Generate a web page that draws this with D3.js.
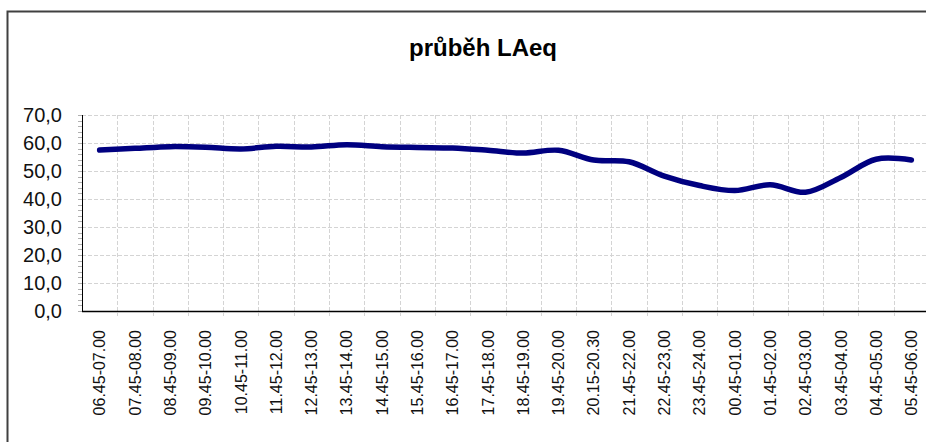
<!DOCTYPE html>
<html>
<head>
<meta charset="utf-8">
<script src="https://cdn.jsdelivr.net/npm/d3@7"></script>
<style>
    body { margin: 0; background: #fff; }
    svg { display: block; font-family: Arial, "Liberation Sans", sans-serif; }
</style>
</head>
<body>
<script>
// chart data
var categories = [
    "06.45-07.00", "07.45-08.00", "08.45-09.00", "09.45-10.00", "10.45-11.00", "11.45-12.00",
    "12.45-13.00", "13.45-14.00", "14.45-15.00", "15.45-16.00", "16.45-17.00", "17.45-18.00",
    "18.45-19.00", "19.45-20.00", "20.15-20.30", "21.45-22.00", "22.45-23,00", "23.45-24.00",
    "00.45-01.00", "01.45-02.00", "02.45-03.00", "03.45-04.00", "04.45-05.00", "05.45-06.00"
];
var laeq = [
    57.5, 58.1, 58.7, 58.5, 57.9, 58.8, 58.6, 59.4, 58.7, 58.4, 58.2, 57.4,
    56.4, 57.4, 53.9, 53.3, 48.2, 44.8, 43.0, 45.1, 42.4, 47.7, 54.2, 53.9
];
var yTicks = [0, 10, 20, 30, 40, 50, 60, 70];
var title = "průběh LAeq";

(function() {
    var width = 926, height = 442;
    var plot = { left: 82, right: 929, top: 115, bottom: 311 };

    var svg = d3.select("body").append("svg")
        .attr("width", width)
        .attr("height", height);

    // outer frame (cropped on the right and bottom)
    svg.append("path")
        .attr("d", "M7.5," + height + "V11.5H" + (width + 5))
        .attr("fill", "none")
        .attr("stroke", "#404040")
        .attr("stroke-width", 2);

    svg.append("text")
        .attr("x", 483)
        .attr("y", 56)
        .attr("text-anchor", "middle")
        .attr("font-size", 24)
        .attr("font-weight", "bold")
        .text(title);

    var x = d3.scaleBand()
        .domain(categories)
        .range([plot.left, plot.right])
        .padding(0);

    var y = d3.scaleLinear()
        .domain([0, 70])
        .range([plot.bottom, plot.top]);

    // horizontal gridlines
    svg.append("g").selectAll("line")
        .data(yTicks.slice(1))
        .enter().append("line")
        .attr("x1", plot.left)
        .attr("x2", plot.right)
        .attr("y1", function(d) { return Math.round(y(d)) + 0.5; })
        .attr("y2", function(d) { return Math.round(y(d)) + 0.5; })
        .attr("stroke", "#d4d4d4")
        .attr("stroke-dasharray", "4,2");

    // vertical gridlines at category boundaries
    svg.append("g").selectAll("line")
        .data(categories.slice(1))
        .enter().append("line")
        .attr("x1", function(d) { return Math.round(x(d)) + 0.5; })
        .attr("x2", function(d) { return Math.round(x(d)) + 0.5; })
        .attr("y1", plot.top)
        .attr("y2", plot.bottom + 5)
        .attr("stroke", "#d4d4d4")
        .attr("stroke-dasharray", "4,2");

    // y axis with minor ticks
    var minor = d3.range(0, 70.1, 2);
    svg.append("g").selectAll("line")
        .data(minor)
        .enter().append("line")
        .attr("x1", plot.left - 4)
        .attr("x2", plot.left)
        .attr("y1", function(d) { return Math.round(y(d)) + 0.5; })
        .attr("y2", function(d) { return Math.round(y(d)) + 0.5; })
        .attr("stroke", "#b0b0b0");

    svg.append("line")
        .attr("x1", plot.left + 0.5).attr("x2", plot.left + 0.5)
        .attr("y1", plot.top).attr("y2", plot.bottom)
        .attr("stroke", "#000");

    svg.append("g").selectAll("text")
        .data(yTicks)
        .enter().append("text")
        .attr("x", 62)
        .attr("y", function(d) { return y(d); })
        .attr("dy", "0.36em")
        .attr("text-anchor", "end")
        .attr("font-size", 20)
        .attr("fill", "#111")
        .text(function(d) { return d3.format(".1f")(d).replace(".", ","); });

    // x axis
    svg.append("line")
        .attr("x1", plot.left).attr("x2", plot.right)
        .attr("y1", plot.bottom + 0.5).attr("y2", plot.bottom + 0.5)
        .attr("stroke", "#000")
        .attr("stroke-width", 1.5);

    svg.append("g").selectAll("text")
        .data(categories)
        .enter().append("text")
        .attr("transform", function(d) {
            return "translate(" + (x(d) + x.bandwidth() / 2) + "," + 330 + ") rotate(-90)";
        })
        .attr("dy", "0.36em")
        .attr("text-anchor", "end")
        .attr("font-size", 16)
        .attr("fill", "#111")
        .text(function(d) { return d; });

    // the LAeq line
    var line = d3.line()
        .x(function(d, i) { return x(categories[i]) + x.bandwidth() / 2; })
        .y(function(d) { return y(d); })
        .curve(d3.curveCatmullRom.alpha(0.5));

    svg.append("path")
        .datum(laeq)
        .attr("d", line)
        .attr("fill", "none")
        .attr("stroke", "#000080")
        .attr("stroke-width", 5.5)
        .attr("stroke-linecap", "round")
        .attr("stroke-linejoin", "round");
})();
</script>
</body>
</html>
